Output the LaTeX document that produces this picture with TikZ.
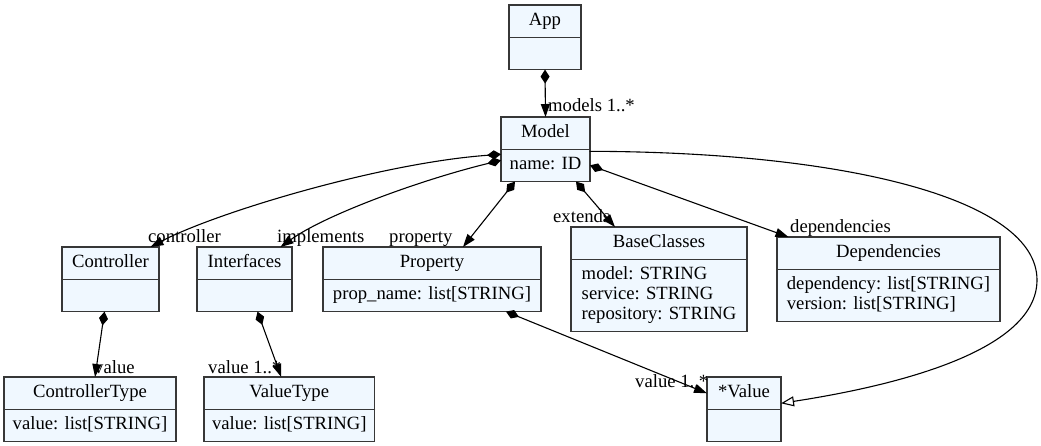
\documentclass[tikz,border=0pt]{standalone}
\usepackage{fontspec}
\setmainfont{Liberation Serif}
\usepackage{tikz}
\usetikzlibrary{arrows.meta, calc, shapes.multipart}
\definecolor{classFill}{RGB}{240,248,255}
\definecolor{classLine}{RGB}{55,55,55}
\newcommand{\classfont}{\fontsize{18.67}{20}\selectfont}
\tikzset{
	umlclass/.style={rectangle split, rectangle split parts=2, draw=classLine, line width=1.3pt,
		fill=classFill, inner xsep=8pt, inner ysep=5.5pt, outer sep=0pt, anchor=north west, font=\classfont},
	compose/.style={{Diamond[length=14pt,width=9pt]}-{Triangle[length=13pt,width=9pt]}, line width=1.1pt},
	inherit/.style={-{Triangle[open,length=13pt,width=10pt,fill=white]}, line width=1.1pt},
	rolelabel/.style={anchor=base west, inner sep=0pt, font=\classfont}
}
\newcommand{\attrs}[1]{\begin{tabular}{@{}l@{}}#1\end{tabular}}

\begin{document}
\begin{tikzpicture}[x=1pt, y=-1pt, line cap=round]
	\useasboundingbox (0,0) rectangle (1041,445);

	% classes
	\node[umlclass, minimum width=72pt] (app) at (509,5) {\strut App \nodepart{two}\strut};
	\node[umlclass, minimum width=89pt] (model) at (501,117) {\strut Model \nodepart{two}\strut name: ID};
	\node[umlclass, minimum width=97pt] (controller) at (62,247) {\strut Controller \nodepart{two}\strut};
	\node[umlclass, minimum width=95pt] (interfaces) at (197,247) {\strut Interfaces \nodepart{two}\strut};
	\node[umlclass, minimum width=218pt] (property) at (323,247) {\strut Property \nodepart{two}\strut prop\_name: list[STRING]};
	\node[umlclass, minimum width=176pt] (baseclasses) at (571,227) {\strut BaseClasses \nodepart{two}\attrs{model: STRING\\service: STRING\\repository: STRING}};
	\node[umlclass, minimum width=223pt] (dependencies) at (777,237) {\strut Dependencies \nodepart{two}\attrs{dependency: list[STRING]\\version: list[STRING]}};
	\node[umlclass, minimum width=172pt] (controllertype) at (4,377) {\strut ControllerType \nodepart{two}\strut value: list[STRING]};
	\node[umlclass, minimum width=162pt] (valuetype) at (204,377) {\strut ValueType \nodepart{two}\strut value: list[STRING]};
	\node[umlclass, minimum width=74pt] (value) at (707,377) {\strut *Value \nodepart{two}\strut};

	% compositions
	\draw[compose] (app.south) -- (model.north);
	\draw[compose] ($(model.west)+(0,5)$) .. controls (380,163) and (215,213) .. ($(controller.north)+(40,0)$);
	\draw[compose] ($(model.west)+(0,11)$) .. controls (420,180) and (325,215) .. ($(interfaces.north)+(36,0)$);
	\draw[compose] ($(model.south west)+(14,0)$) -- ($(property.north)+(31,0)$);
	\draw[compose] ($(model.south west)+(75,0)$) -- ($(baseclasses.north)+(-44,0)$);
	\draw[compose] ($(model.east)+(0,16)$) -- ($(dependencies.north)+(-100,0)$);
	\draw[compose] ($(controller.south)+(-6,0)$) -- ($(controllertype.north)+(5,0)$);
	\draw[compose] ($(interfaces.south)+(13,0)$) -- ($(valuetype.north)+(-8,0)$);
	\draw[compose] ($(property.south)+(74,0)$) -- ($(value.west)+(0,-16)$);

	% generalization
	\draw[inherit] ($(model.east)+(0,2)$) .. controls (850,152) and (1037,200) .. (1037,280)
		.. controls (1037,350) and (900,385) .. ($(value.east)+(0,-6)$);

	% role labels
	\node[rolelabel] (lmodels) at (548,111) {models 1..*};
	\node[rolelabel] (lcontroller) at (148,242) {controller};
	\node[rolelabel] (limplements) at (277,242) {implements};
	\node[rolelabel] (lproperty) at (389,242) {property};
	\node[rolelabel] (lextends) at (553,222) {extends};
	\node[rolelabel] (ldependencies) at (790,232) {dependencies};
	\node[rolelabel] (lvalue) at (94,373) {value};
	\node[rolelabel] (lvaluetype) at (208,373) {value 1..*};
	\node[rolelabel] (lvaluestar) at (635,387) {value 1..*};

\end{tikzpicture}
\end{document}
